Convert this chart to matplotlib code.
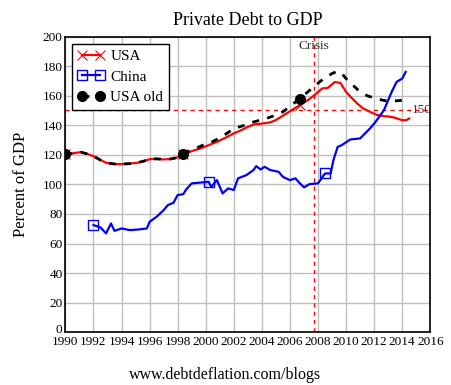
import matplotlib.pyplot as plt
from matplotlib.transforms import ScaledTranslation

# ---- data ----
usa_years = [1990.0, 1990.5, 1991.1, 1991.5, 1992.0, 1992.5, 1992.9, 1993.5, 1993.9, 1994.5,
             1995.1, 1995.6, 1996.0, 1996.5, 1997.0, 1997.5, 1997.9, 1998.4, 1999.0, 1999.6,
             2000.2, 2000.8, 2001.4, 2002.0, 2002.5, 2002.9, 2003.4, 2003.9, 2004.6, 2005.0,
             2005.5, 2006.0, 2006.7, 2007.2, 2007.7, 2008.0, 2008.3, 2008.7, 2009.2, 2009.6,
             2010.0, 2010.4, 2010.8, 2011.2, 2011.7, 2012.2, 2012.7, 2013.0, 2013.4, 2014.0,
             2014.3, 2014.5]
usa_vals = [120.3, 121.0, 121.8, 120.8, 119.1, 116.5, 114.6, 113.8, 113.7, 114.0,
            114.6, 115.8, 117.1, 117.3, 116.9, 117.2, 118.0, 120.3, 122.5, 124.3,
            126.5, 128.8, 131.5, 134.5, 136.5, 138.5, 140.5, 141.0, 142.0, 143.5,
            146.5, 149.5, 153.6, 156.5, 160.0, 162.5, 164.9, 165.3, 169.3, 168.6,
            162.6, 158.5, 154.7, 151.5, 149.1, 147.0, 146.1, 146.0, 145.3, 143.4,
            143.5, 144.6]

old_years = [1990.0, 1990.5, 1991.1, 1991.5, 1992.0, 1992.5, 1992.9, 1993.5, 1993.9, 1994.5,
             1995.1, 1995.6, 1996.0, 1996.5, 1997.0, 1997.5, 1997.9, 1998.4, 1999.0, 1999.8,
             2000.5, 2001.2, 2002.0, 2002.6, 2003.15, 2003.7, 2004.3, 2004.9, 2005.5, 2006.1,
             2006.7, 2007.2, 2007.7, 2008.2, 2008.6, 2009.0, 2009.4, 2009.7, 2010.0, 2010.5,
             2011.0, 2011.5, 2012.1, 2012.6, 2013.0, 2013.5, 2014.2]
old_vals = [120.3, 121.0, 121.8, 120.8, 119.1, 116.5, 114.6, 113.8, 113.7, 114.0,
            114.6, 115.8, 117.1, 117.3, 116.9, 117.2, 118.0, 120.8, 123.0, 126.6,
            129.0, 132.5, 137.8, 139.5, 141.6, 143.0, 144.6, 146.5, 149.1, 153.5,
            158.1, 162.0, 166.0, 170.0, 172.7, 175.0, 176.6, 175.0, 171.6, 167.0,
            162.6, 160.0, 158.1, 157.0, 156.3, 156.5, 157.0]

china_years = [1992.0, 1992.5, 1992.9, 1993.25, 1993.5, 1994.0, 1994.6, 1995.2, 1995.8, 1996.0,
               1996.5, 1997.0, 1997.3, 1997.7, 1998.0, 1998.4, 1998.6, 1999.0, 1999.6, 2000.2,
               2000.4, 2000.8, 2001.2, 2001.6, 2002.0, 2002.3, 2002.9, 2003.4, 2003.6, 2003.9,
               2004.2, 2004.6, 2005.2, 2005.5, 2006.0, 2006.4, 2006.6, 2007.0, 2007.4, 2008.0,
               2008.5, 2008.9, 2009.1, 2009.4, 2009.7, 2010.3, 2011.0, 2011.7, 2012.1, 2012.7,
               2013.25, 2013.6, 2014.0, 2014.25]
china_vals = [72.5, 70.9, 66.9, 73.6, 68.6, 70.2, 69.1, 69.5, 70.2, 74.7,
              78.1, 82.6, 86.0, 87.6, 92.8, 93.4, 96.5, 100.7, 101.2, 101.8,
              98.4, 102.9, 93.9, 97.3, 96.2, 104.1, 106.3, 109.7, 112.4, 110.1,
              111.9, 109.7, 108.5, 105.1, 102.9, 104.1, 101.8, 98.0, 100.2, 100.7,
              107.4, 107.4, 116.4, 125.4, 126.6, 130.4, 131.1, 137.8, 142.3, 150.2,
              162.6, 169.3, 171.6, 176.1]

crisis_year = 2007.7
ref_level = 150
x_ticks = list(range(1990, 2017, 2))
y_ticks = list(range(0, 201, 20))

plt.rcParams['font.family'] = ['Liberation Serif', 'DejaVu Serif']

fig = plt.figure(figsize=(4.51, 3.85), dpi=100)
ax = fig.add_axes([0.145, 0.137, 0.809, 0.768])
ax.set_xlim(1990, 2016)
ax.set_ylim(0, 200)

# grid
ax.set_xticks(x_ticks)
ax.set_yticks(y_ticks)
ax.grid(True, color='#c0c0c0', linewidth=1)
ax.set_axisbelow(True)
ax.tick_params(length=0, labelsize=9.5, pad=2)
ax.tick_params(axis='x', pad=3)
for s in ax.spines.values():
    s.set_linewidth(1.2)

# lift the "0" label a little, as in the original
ylab0 = ax.get_yticklabels()[0]
ylab0.set_transform(ylab0.get_transform() + ScaledTranslation(0, 2.5 / 72, fig.dpi_scale_trans))

# reference lines
ax.axhline(ref_level, color='red', linestyle=(0, (3, 3)), linewidth=1)
ax.axvline(crisis_year, color='red', linestyle=(0, (3, 3)), linewidth=1)
ax.text(2014.65, ref_level, '150', fontsize=9.5, va='center', ha='left', color='#333333')
ax.text(crisis_year, 193.5, 'Crisis', fontsize=9.5, ha='center', va='center', color='#333333')

# series
ax.plot(usa_years, usa_vals, color='red', linewidth=1.6, marker='x', markersize=7,
        markeredgewidth=0.8, markevery=[0, 17, 32], label='USA', zorder=3)
ax.plot(china_years, china_vals, color='blue', linewidth=1.6, marker='s', markersize=7,
        markerfacecolor='none', markeredgewidth=1, markevery=[0, 19, 40], label='China', zorder=3)
ax.plot(old_years, old_vals, color='black', linewidth=2, linestyle=(0, (2.5, 3)), marker='o',
        markersize=7, markevery=[0, 17, 30], label='USA old', zorder=4)

leg = ax.legend(loc='upper left', fontsize=11, numpoints=2, handlelength=1.75, handletextpad=0.4,
                borderpad=0.35, labelspacing=0.45, fancybox=False, framealpha=1,
                bbox_to_anchor=(0.01, 0.985), borderaxespad=0.2)
leg.get_frame().set_edgecolor('black')
leg.get_frame().set_linewidth(1)

ax.set_title('Private Debt to GDP', fontsize=13, pad=8)
ax.set_ylabel('Percent of GDP', fontsize=12, labelpad=10)
fig.text(0.5, 0.025, 'www.debtdeflation.com/blogs', ha='center', va='center', fontsize=11.5)

fig.savefig('out.png', dpi=100)
plt.close()
